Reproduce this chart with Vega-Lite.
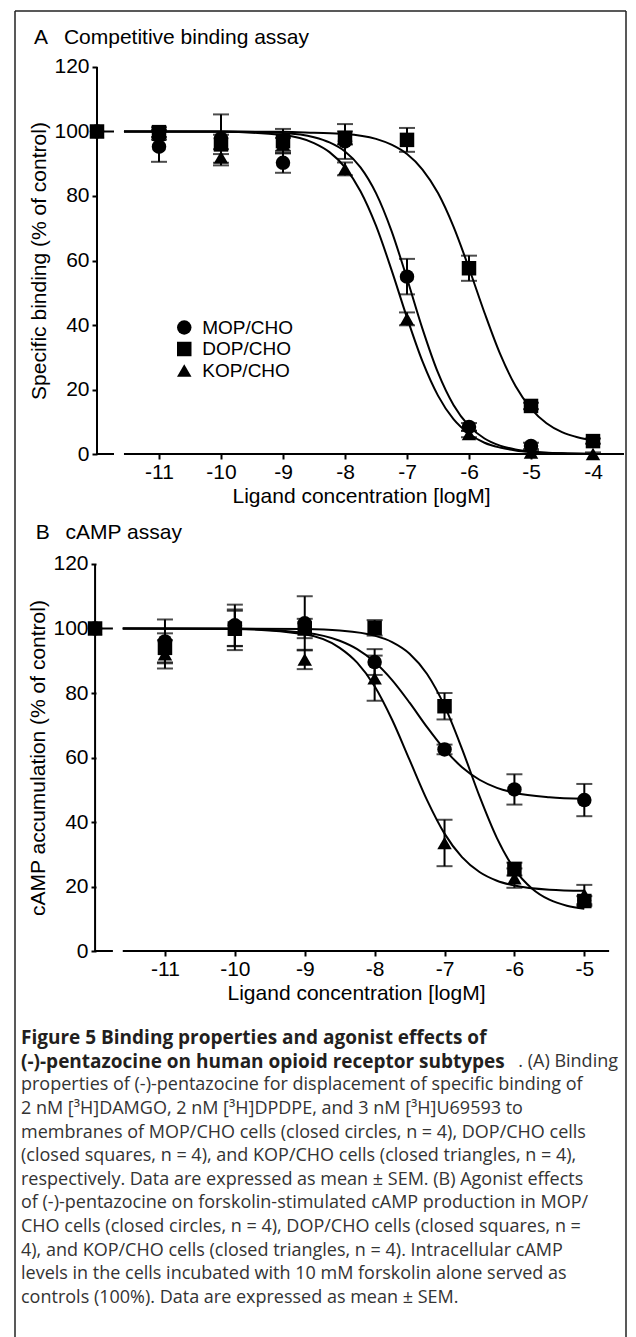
{
"$schema": "https://vega.github.io/schema/vega-lite/v6.json",
"background": "white",
"padding": {"left": 14, "top": 10, "right": 0, "bottom": 0},
"bounds": "flush",
"spacing": 0,
"config": {
 "view": {"stroke": null},
 "axis": {"domain": false, "grid": false, "tickColor": "black", "tickWidth": 2, "tickSize": 5, "labelFont": "Liberation Sans", "labelFontSize": 21, "labelColor": "black", "titleFont": "Liberation Sans", "titleFontSize": 21, "titleFontWeight": "normal", "titleColor": "black", "labelOverlap": false, "labelFlush": false}
},
"resolve": {"scale": {"shape": "independent"}, "legend": {"shape": "independent"}},
"datasets": {
 "a_points": [
  {"receptor": "MOP/CHO", "x": -12, "y": 100, "lo": 100, "hi": 100},
  {"receptor": "MOP/CHO", "x": -11, "y": 95.3, "lo": 90.6, "hi": 100.0},
  {"receptor": "MOP/CHO", "x": -10, "y": 97.8, "lo": 90.3, "hi": 105.3},
  {"receptor": "MOP/CHO", "x": -9, "y": 90.3, "lo": 87.2, "hi": 93.4},
  {"receptor": "MOP/CHO", "x": -8, "y": 96.9, "lo": 91.5, "hi": 102.3},
  {"receptor": "MOP/CHO", "x": -7, "y": 55.0, "lo": 49.5, "hi": 60.5},
  {"receptor": "MOP/CHO", "x": -6, "y": 8.4, "lo": 7.2, "hi": 9.6},
  {"receptor": "MOP/CHO", "x": -5, "y": 2.5, "lo": 1.5, "hi": 3.5},
  {"receptor": "DOP/CHO", "x": -12, "y": 100, "lo": 100, "hi": 100},
  {"receptor": "DOP/CHO", "x": -11, "y": 99.8, "lo": 98.3, "hi": 101.3},
  {"receptor": "DOP/CHO", "x": -10, "y": 96.0, "lo": 93.0, "hi": 99.0},
  {"receptor": "DOP/CHO", "x": -9, "y": 97.0, "lo": 93.2, "hi": 100.8},
  {"receptor": "DOP/CHO", "x": -8, "y": 98.0, "lo": 96.0, "hi": 100.0},
  {"receptor": "DOP/CHO", "x": -7, "y": 97.4, "lo": 93.7, "hi": 101.1},
  {"receptor": "DOP/CHO", "x": -6, "y": 57.6, "lo": 53.7, "hi": 61.5},
  {"receptor": "DOP/CHO", "x": -5, "y": 14.9, "lo": 13.9, "hi": 15.9},
  {"receptor": "DOP/CHO", "x": -4, "y": 4.0, "lo": 3.2, "hi": 4.8},
  {"receptor": "KOP/CHO", "x": -12, "y": 100, "lo": 100, "hi": 100},
  {"receptor": "KOP/CHO", "x": -11, "y": 99.0, "lo": 97.5, "hi": 100.5},
  {"receptor": "KOP/CHO", "x": -10, "y": 92.0, "lo": 89.5, "hi": 94.5},
  {"receptor": "KOP/CHO", "x": -9, "y": 96.0, "lo": 94.0, "hi": 98.0},
  {"receptor": "KOP/CHO", "x": -8, "y": 88.4, "lo": 86.4, "hi": 90.4},
  {"receptor": "KOP/CHO", "x": -7, "y": 41.9, "lo": 39.9, "hi": 43.9},
  {"receptor": "KOP/CHO", "x": -6, "y": 6.2, "lo": 5.2, "hi": 7.2},
  {"receptor": "KOP/CHO", "x": -5, "y": 0.5, "lo": 0.0, "hi": 1.0},
  {"receptor": "KOP/CHO", "x": -4, "y": 0.0, "lo": 0.0, "hi": 0.5}
 ],
 "a_curves": [
  {"curve": "stub", "x": -12, "y": 100}, {"curve": "stub", "x": -11.726, "y": 100},
  {"curve": "MOP", "x": -11.565, "y": 100}, {"curve": "MOP", "x": -10, "y": 100}, {"curve": "MOP", "x": -9, "y": 99.5}, {"curve": "MOP", "x": -8.5, "y": 98.2}, {"curve": "MOP", "x": -8.25, "y": 96.6}, {"curve": "MOP", "x": -8, "y": 93.8}, {"curve": "MOP", "x": -7.75, "y": 88.9}, {"curve": "MOP", "x": -7.5, "y": 80.9}, {"curve": "MOP", "x": -7.25, "y": 69.2}, {"curve": "MOP", "x": -7, "y": 54.4}, {"curve": "MOP", "x": -6.75, "y": 38.8}, {"curve": "MOP", "x": -6.5, "y": 25.2}, {"curve": "MOP", "x": -6.25, "y": 15.2}, {"curve": "MOP", "x": -6, "y": 8.7}, {"curve": "MOP", "x": -5.75, "y": 4.8}, {"curve": "MOP", "x": -5.5, "y": 2.6}, {"curve": "MOP", "x": -5.25, "y": 1.4}, {"curve": "MOP", "x": -5, "y": 0.75}, {"curve": "MOP", "x": -4.5, "y": 0.2}, {"curve": "MOP", "x": -4, "y": 0.05},
  {"curve": "KOP", "x": -11.565, "y": 100}, {"curve": "KOP", "x": -10, "y": 99.9}, {"curve": "KOP", "x": -9, "y": 98.9}, {"curve": "KOP", "x": -8.5, "y": 96.4}, {"curve": "KOP", "x": -8.25, "y": 93.6}, {"curve": "KOP", "x": -8, "y": 88.9}, {"curve": "KOP", "x": -7.75, "y": 81.5}, {"curve": "KOP", "x": -7.5, "y": 70.8}, {"curve": "KOP", "x": -7.25, "y": 57.1}, {"curve": "KOP", "x": -7, "y": 42.3}, {"curve": "KOP", "x": -6.75, "y": 28.7}, {"curve": "KOP", "x": -6.5, "y": 18.1}, {"curve": "KOP", "x": -6.25, "y": 10.8}, {"curve": "KOP", "x": -6, "y": 6.3}, {"curve": "KOP", "x": -5.75, "y": 3.5}, {"curve": "KOP", "x": -5.5, "y": 2.0}, {"curve": "KOP", "x": -5.25, "y": 1.1}, {"curve": "KOP", "x": -5, "y": 0.6}, {"curve": "KOP", "x": -4.5, "y": 0.2}, {"curve": "KOP", "x": -4, "y": 0.05},
  {"curve": "DOP", "x": -11.565, "y": 100}, {"curve": "DOP", "x": -10, "y": 100}, {"curve": "DOP", "x": -9, "y": 99.9}, {"curve": "DOP", "x": -8.5, "y": 99.6}, {"curve": "DOP", "x": -8, "y": 99.25}, {"curve": "DOP", "x": -7.5, "y": 97.7}, {"curve": "DOP", "x": -7.25, "y": 95.9}, {"curve": "DOP", "x": -7, "y": 93.0}, {"curve": "DOP", "x": -6.75, "y": 88.2}, {"curve": "DOP", "x": -6.5, "y": 80.9}, {"curve": "DOP", "x": -6.25, "y": 70.5}, {"curve": "DOP", "x": -6, "y": 57.6}, {"curve": "DOP", "x": -5.75, "y": 43.8}, {"curve": "DOP", "x": -5.5, "y": 31.1}, {"curve": "DOP", "x": -5.25, "y": 21.1}, {"curve": "DOP", "x": -5, "y": 14.1}, {"curve": "DOP", "x": -4.75, "y": 9.55}, {"curve": "DOP", "x": -4.5, "y": 6.8}, {"curve": "DOP", "x": -4.25, "y": 5.2}, {"curve": "DOP", "x": -4, "y": 4.2}
 ],
 "b_points": [
  {"receptor": "MOP/CHO", "x": -12, "y": 100, "lo": 100, "hi": 100},
  {"receptor": "MOP/CHO", "x": -11, "y": 96.0, "lo": 89.2, "hi": 102.8},
  {"receptor": "MOP/CHO", "x": -10, "y": 101.0, "lo": 94.6, "hi": 107.4},
  {"receptor": "MOP/CHO", "x": -9, "y": 101.6, "lo": 93.2, "hi": 110.0},
  {"receptor": "MOP/CHO", "x": -8, "y": 89.6, "lo": 85.6, "hi": 93.6},
  {"receptor": "MOP/CHO", "x": -7, "y": 62.5, "lo": 61.0, "hi": 64.0},
  {"receptor": "MOP/CHO", "x": -6, "y": 50.1, "lo": 45.4, "hi": 54.8},
  {"receptor": "MOP/CHO", "x": -5, "y": 46.8, "lo": 41.8, "hi": 51.8},
  {"receptor": "DOP/CHO", "x": -12, "y": 100, "lo": 100, "hi": 100},
  {"receptor": "DOP/CHO", "x": -11, "y": 94.0, "lo": 89.5, "hi": 98.5},
  {"receptor": "DOP/CHO", "x": -10, "y": 100.0, "lo": 94.5, "hi": 105.5},
  {"receptor": "DOP/CHO", "x": -9, "y": 100.0, "lo": 97.0, "hi": 103.0},
  {"receptor": "DOP/CHO", "x": -8, "y": 100.2, "lo": 97.8, "hi": 102.6},
  {"receptor": "DOP/CHO", "x": -7, "y": 75.9, "lo": 71.8, "hi": 80.0},
  {"receptor": "DOP/CHO", "x": -6, "y": 25.4, "lo": 23.4, "hi": 27.4},
  {"receptor": "DOP/CHO", "x": -5, "y": 15.5, "lo": 14.0, "hi": 17.0},
  {"receptor": "KOP/CHO", "x": -12, "y": 100, "lo": 100, "hi": 100},
  {"receptor": "KOP/CHO", "x": -11, "y": 92.0, "lo": 87.6, "hi": 96.4},
  {"receptor": "KOP/CHO", "x": -10, "y": 99.6, "lo": 93.3, "hi": 105.9},
  {"receptor": "KOP/CHO", "x": -9, "y": 90.4, "lo": 87.4, "hi": 93.4},
  {"receptor": "KOP/CHO", "x": -8, "y": 84.6, "lo": 77.6, "hi": 91.6},
  {"receptor": "KOP/CHO", "x": -7, "y": 33.5, "lo": 26.3, "hi": 40.7},
  {"receptor": "KOP/CHO", "x": -6, "y": 22.6, "lo": 19.6, "hi": 25.6},
  {"receptor": "KOP/CHO", "x": -5, "y": 17.5, "lo": 14.5, "hi": 20.5}
 ],
 "b_curves": [
  {"curve": "stub", "x": -12, "y": 100}, {"curve": "stub", "x": -11.745, "y": 100},
  {"curve": "MOP", "x": -11.604, "y": 100}, {"curve": "MOP", "x": -10, "y": 99.9}, {"curve": "MOP", "x": -9, "y": 98.7}, {"curve": "MOP", "x": -8.5, "y": 96.2}, {"curve": "MOP", "x": -8.25, "y": 93.6}, {"curve": "MOP", "x": -8, "y": 89.6}, {"curve": "MOP", "x": -7.75, "y": 84.0}, {"curve": "MOP", "x": -7.5, "y": 77.0}, {"curve": "MOP", "x": -7.25, "y": 69.4}, {"curve": "MOP", "x": -7, "y": 62.5}, {"curve": "MOP", "x": -6.75, "y": 57.0}, {"curve": "MOP", "x": -6.5, "y": 53.1}, {"curve": "MOP", "x": -6.25, "y": 50.6}, {"curve": "MOP", "x": -6, "y": 49.1}, {"curve": "MOP", "x": -5.5, "y": 47.7}, {"curve": "MOP", "x": -5, "y": 47.2},
  {"curve": "DOP", "x": -11.604, "y": 100}, {"curve": "DOP", "x": -10, "y": 100}, {"curve": "DOP", "x": -9, "y": 99.85}, {"curve": "DOP", "x": -8.5, "y": 99.4}, {"curve": "DOP", "x": -8, "y": 97.8}, {"curve": "DOP", "x": -7.75, "y": 95.8}, {"curve": "DOP", "x": -7.5, "y": 92.2}, {"curve": "DOP", "x": -7.25, "y": 85.9}, {"curve": "DOP", "x": -7, "y": 76.0}, {"curve": "DOP", "x": -6.75, "y": 62.7}, {"curve": "DOP", "x": -6.5, "y": 48.0}, {"curve": "DOP", "x": -6.25, "y": 35.0}, {"curve": "DOP", "x": -6, "y": 25.4}, {"curve": "DOP", "x": -5.75, "y": 19.4}, {"curve": "DOP", "x": -5.5, "y": 15.9}, {"curve": "DOP", "x": -5.25, "y": 14.05}, {"curve": "DOP", "x": -5, "y": 13.1},
  {"curve": "KOP", "x": -11.604, "y": 100}, {"curve": "KOP", "x": -10, "y": 99.85}, {"curve": "KOP", "x": -9, "y": 98.2}, {"curve": "KOP", "x": -8.5, "y": 94.0}, {"curve": "KOP", "x": -8.25, "y": 89.4}, {"curve": "KOP", "x": -8, "y": 82.1}, {"curve": "KOP", "x": -7.75, "y": 71.7}, {"curve": "KOP", "x": -7.5, "y": 59.25}, {"curve": "KOP", "x": -7.25, "y": 46.8}, {"curve": "KOP", "x": -7, "y": 36.4}, {"curve": "KOP", "x": -6.75, "y": 29.1}, {"curve": "KOP", "x": -6.5, "y": 24.5}, {"curve": "KOP", "x": -6.25, "y": 21.8}, {"curve": "KOP", "x": -6, "y": 20.3}, {"curve": "KOP", "x": -5.5, "y": 19.0}, {"curve": "KOP", "x": -5, "y": 18.65}
 ],
 "caption": [
  {"line": 1, "kind": "title", "text": "Figure 5 Binding properties and agonist effects of"},
  {"line": 2, "kind": "title", "text": "(-)-pentazocine on human opioid receptor subtypes"},
  {"line": 2, "kind": "tail", "text": ". (A) Binding"},
  {"line": 3, "kind": "body", "text": "properties of (-)-pentazocine for displacement of specific binding of"},
  {"line": 4, "kind": "body", "text": "2 nM [³H]DAMGO, 2 nM [³H]DPDPE, and 3 nM [³H]U69593 to"},
  {"line": 5, "kind": "body", "text": "membranes of MOP/CHO cells (closed circles, n = 4), DOP/CHO cells"},
  {"line": 6, "kind": "body", "text": "(closed squares, n = 4), and KOP/CHO cells (closed triangles, n = 4),"},
  {"line": 7, "kind": "body", "text": "respectively. Data are expressed as mean ± SEM. (B) Agonist effects"},
  {"line": 8, "kind": "body", "text": "of (-)-pentazocine on forskolin-stimulated cAMP production in MOP/"},
  {"line": 9, "kind": "body", "text": "CHO cells (closed circles, n = 4), DOP/CHO cells (closed squares, n ="},
  {"line": 10, "kind": "body", "text": "4), and KOP/CHO cells (closed triangles, n = 4). Intracellular cAMP"},
  {"line": 11, "kind": "body", "text": "levels in the cells incubated with 10 mM forskolin alone served as"},
  {"line": 12, "kind": "body", "text": "controls (100%). Data are expressed as mean ± SEM."}
 ]
},
"vconcat": [
 {
  "width": 611, "height": 487,
  "data": {"values": [{}]},
  "layer": [
   {"mark": {"type": "rule", "color": "#222", "strokeWidth": 1.5}, "encoding": {"x": {"datum": -13.3226, "type": "quantitative", "scale": {"domain": [-13.3226, -3.4677], "nice": false, "zero": false}}, "y": {"datum": -13.643, "type": "quantitative", "scale": {"domain": [-13.643, 137.364], "nice": false, "zero": false}}, "y2": {"datum": 137.364}}},
   {"mark": {"type": "rule", "color": "#222", "strokeWidth": 1.5}, "encoding": {"x": {"datum": -3.4677, "type": "quantitative", "scale": {"domain": [-13.3226, -3.4677], "nice": false, "zero": false}}, "y": {"datum": -13.643, "type": "quantitative", "scale": {"domain": [-13.643, 137.364], "nice": false, "zero": false}}, "y2": {"datum": 137.364}}},
   {"mark": {"type": "rule", "color": "#222", "strokeWidth": 1.5}, "encoding": {"x": {"datum": -13.3226, "type": "quantitative", "scale": {"domain": [-13.3226, -3.4677], "nice": false, "zero": false}}, "x2": {"datum": -3.4677}, "y": {"datum": 137.364, "type": "quantitative", "scale": {"domain": [-13.643, 137.364], "nice": false, "zero": false}}}},
   {"mark": {"type": "rule", "color": "black", "strokeWidth": 2}, "encoding": {"x": {"datum": -12, "type": "quantitative", "scale": {"domain": [-13.3226, -3.4677], "nice": false, "zero": false}}, "y": {"datum": 0, "type": "quantitative", "scale": {"domain": [-13.643, 137.364], "nice": false, "zero": false}}, "y2": {"datum": 120}}},
   {"mark": {"type": "rule", "color": "black", "strokeWidth": 2}, "encoding": {"x": {"datum": -12, "type": "quantitative", "scale": {"domain": [-13.3226, -3.4677], "nice": false, "zero": false}}, "x2": {"datum": -11.726}, "y": {"datum": 0, "type": "quantitative", "scale": {"domain": [-13.643, 137.364], "nice": false, "zero": false}}}},
   {"mark": {"type": "rule", "color": "black", "strokeWidth": 2}, "encoding": {"x": {"datum": -11.565, "type": "quantitative", "scale": {"domain": [-13.3226, -3.4677], "nice": false, "zero": false}}, "x2": {"datum": -3.5}, "y": {"datum": 0, "type": "quantitative", "scale": {"domain": [-13.643, 137.364], "nice": false, "zero": false}}}},
   {"mark": {"type": "text", "text": "A\u00a0\u00a0\u2009Competitive binding assay", "align": "left", "baseline": "alphabetic", "font": "Liberation Sans", "fontSize": 21, "color": "black"}, "encoding": {"x": {"datum": -13.016, "type": "quantitative", "scale": {"domain": [-13.3226, -3.4677], "nice": false, "zero": false}}, "y": {"datum": 127.1, "type": "quantitative", "scale": {"domain": [-13.643, 137.364], "nice": false, "zero": false}}}},
   {"data": {"name": "a_points"}, "transform": [{"filter": "datum.hi > datum.lo"}], "mark": {"type": "errorbar", "ticks": {"size": 16}, "thickness": 2, "color": "black"}, "encoding": {"x": {"field": "x", "type": "quantitative", "title": "Ligand concentration [logM]", "scale": {"domain": [-13.3226, -3.4677], "nice": false, "zero": false}}, "y": {"field": "lo", "type": "quantitative", "title": "Specific binding (% of control)", "scale": {"domain": [-13.643, 137.364], "nice": false, "zero": false}}, "y2": {"field": "hi"}}},
   {"data": {"name": "a_curves"}, "mark": {"type": "line", "interpolate": "monotone", "color": "black", "strokeWidth": 2}, "encoding": {"x": {"field": "x", "type": "quantitative", "title": "Ligand concentration [logM]", "scale": {"domain": [-13.3226, -3.4677], "nice": false, "zero": false}}, "y": {"field": "y", "type": "quantitative", "title": "Specific binding (% of control)", "scale": {"domain": [-13.643, 137.364], "nice": false, "zero": false}}, "detail": {"field": "curve", "type": "nominal"}}},
   {"data": {"name": "a_points"}, "mark": {"type": "point", "filled": true, "size": 210, "color": "black", "opacity": 1, "strokeWidth": 0},
    "encoding": {
     "x": {"field": "x", "type": "quantitative", "title": "Ligand concentration [logM]", "scale": {"domain": [-13.3226, -3.4677], "nice": false, "zero": false}, "axis": {"values": [-11, -10, -9, -8, -7, -6, -5, -4], "offset": -44, "labelExpr": "'' + datum.value", "labelPadding": 2, "titlePadding": 3, "titleX": 346}},
     "y": {"field": "y", "type": "quantitative", "title": "Specific binding (% of control)", "scale": {"domain": [-13.643, 137.364], "nice": false, "zero": false}, "axis": {"values": [0, 20, 40, 60, 80, 100, 120], "offset": -82, "labelPadding": 3, "titlePadding": 4, "titleY": 249.5}},
     "shape": {"field": "receptor", "type": "nominal", "scale": {"domain": ["MOP/CHO", "DOP/CHO", "KOP/CHO"], "range": ["circle", "square", "triangle-up"]}, "legend": {"orient": "none", "legendX": 159.75, "legendY": 307, "title": null, "padding": 0, "labelFont": "Liberation Sans", "labelFontSize": 19, "labelColor": "black", "symbolSize": 210, "symbolFillColor": "black", "symbolStrokeWidth": 0, "symbolOpacity": 1, "rowPadding": 1.5, "labelOffset": 8.5}}
    }
   }
  ]
 },
 {
  "width": 611, "height": 498,
  "data": {"values": [{}]},
  "layer": [
   {"mark": {"type": "rule", "color": "#222", "strokeWidth": 1.5}, "encoding": {"x": {"datum": -13.1457, "type": "quantitative", "scale": {"domain": [-13.1457, -4.4035], "nice": false, "zero": false}}, "y": {"datum": -13.953, "type": "quantitative", "scale": {"domain": [-13.953, 140.465], "nice": false, "zero": false}}, "y2": {"datum": 140.465}}},
   {"mark": {"type": "rule", "color": "#222", "strokeWidth": 1.5}, "encoding": {"x": {"datum": -4.4035, "type": "quantitative", "scale": {"domain": [-13.1457, -4.4035], "nice": false, "zero": false}}, "y": {"datum": -13.953, "type": "quantitative", "scale": {"domain": [-13.953, 140.465], "nice": false, "zero": false}}, "y2": {"datum": 140.465}}},
   {"mark": {"type": "rule", "color": "black", "strokeWidth": 2}, "encoding": {"x": {"datum": -12, "type": "quantitative", "scale": {"domain": [-13.1457, -4.4035], "nice": false, "zero": false}}, "y": {"datum": 0, "type": "quantitative", "scale": {"domain": [-13.953, 140.465], "nice": false, "zero": false}}, "y2": {"datum": 120}}},
   {"mark": {"type": "rule", "color": "black", "strokeWidth": 2}, "encoding": {"x": {"datum": -12, "type": "quantitative", "scale": {"domain": [-13.1457, -4.4035], "nice": false, "zero": false}}, "x2": {"datum": -11.745}, "y": {"datum": 0, "type": "quantitative", "scale": {"domain": [-13.953, 140.465], "nice": false, "zero": false}}}},
   {"mark": {"type": "rule", "color": "black", "strokeWidth": 2}, "encoding": {"x": {"datum": -11.604, "type": "quantitative", "scale": {"domain": [-13.1457, -4.4035], "nice": false, "zero": false}}, "x2": {"datum": -4.645}, "y": {"datum": 0, "type": "quantitative", "scale": {"domain": [-13.953, 140.465], "nice": false, "zero": false}}}},
   {"mark": {"type": "text", "text": "B\u00a0\u00a0\u2009cAMP assay", "align": "left", "baseline": "alphabetic", "font": "Liberation Sans", "fontSize": 21, "color": "black"}, "encoding": {"x": {"datum": -12.849, "type": "quantitative", "scale": {"domain": [-13.1457, -4.4035], "nice": false, "zero": false}}, "y": {"datum": 127.75, "type": "quantitative", "scale": {"domain": [-13.953, 140.465], "nice": false, "zero": false}}}},
   {"data": {"name": "b_points"}, "transform": [{"filter": "datum.hi > datum.lo"}], "mark": {"type": "errorbar", "ticks": {"size": 16}, "thickness": 2, "color": "black"}, "encoding": {"x": {"field": "x", "type": "quantitative", "title": "Ligand concentration [logM]", "scale": {"domain": [-13.1457, -4.4035], "nice": false, "zero": false}}, "y": {"field": "lo", "type": "quantitative", "title": "cAMP accumulation (% of control)", "scale": {"domain": [-13.953, 140.465], "nice": false, "zero": false}}, "y2": {"field": "hi"}}},
   {"data": {"name": "b_curves"}, "mark": {"type": "line", "interpolate": "monotone", "color": "black", "strokeWidth": 2}, "encoding": {"x": {"field": "x", "type": "quantitative", "title": "Ligand concentration [logM]", "scale": {"domain": [-13.1457, -4.4035], "nice": false, "zero": false}}, "y": {"field": "y", "type": "quantitative", "title": "cAMP accumulation (% of control)", "scale": {"domain": [-13.953, 140.465], "nice": false, "zero": false}}, "detail": {"field": "curve", "type": "nominal"}}},
   {"data": {"name": "b_points"}, "mark": {"type": "point", "filled": true, "size": 210, "color": "black", "opacity": 1, "strokeWidth": 0},
    "encoding": {
     "x": {"field": "x", "type": "quantitative", "title": "Ligand concentration [logM]", "scale": {"domain": [-13.1457, -4.4035], "nice": false, "zero": false}, "axis": {"values": [-11, -10, -9, -8, -7, -6, -5], "offset": -45, "labelExpr": "'' + datum.value", "labelPadding": 2, "titlePadding": 3, "titleX": 341}},
     "y": {"field": "y", "type": "quantitative", "title": "cAMP accumulation (% of control)", "scale": {"domain": [-13.953, 140.465], "nice": false, "zero": false}, "axis": {"values": [0, 20, 40, 60, 80, 100, 120], "offset": -81, "labelPadding": 3, "titlePadding": 4, "titleY": 259.5}},
     "shape": {"field": "receptor", "type": "nominal", "scale": {"domain": ["MOP/CHO", "DOP/CHO", "KOP/CHO"], "range": ["circle", "square", "triangle-up"]}, "legend": null}
    }
   }
  ]
 },
 {
  "width": 611, "height": 345,
  "data": {"name": "caption"},
  "layer": [
   {"data": {"values": [{}]}, "mark": {"type": "rule", "color": "#222", "strokeWidth": 1.5}, "encoding": {"x": {"datum": -0.01005, "type": "quantitative", "scale": {"domain": [-0.01005, 1.0134], "nice": false, "zero": false}, "axis": null}, "y": {"datum": -0.7766, "type": "quantitative", "scale": {"domain": [-0.7766, 13.817], "nice": false, "zero": false, "reverse": true}, "axis": null}, "y2": {"datum": 13.817}}},
   {"data": {"values": [{}]}, "mark": {"type": "rule", "color": "#222", "strokeWidth": 1.5}, "encoding": {"x": {"datum": 1.0134, "type": "quantitative", "scale": {"domain": [-0.01005, 1.0134], "nice": false, "zero": false}, "axis": null}, "y": {"datum": -0.7766, "type": "quantitative", "scale": {"domain": [-0.7766, 13.817], "nice": false, "zero": false, "reverse": true}, "axis": null}, "y2": {"datum": 13.817}}},
   {"transform": [{"filter": "datum.kind == 'title'"}], "mark": {"type": "text", "align": "left", "baseline": "middle", "font": "Open Sans", "fontWeight": "bold", "fontSize": 19, "color": "#231f20"}, "encoding": {"x": {"datum": 0, "type": "quantitative", "scale": {"domain": [-0.01005, 1.0134], "nice": false, "zero": false}, "axis": null}, "y": {"field": "line", "type": "quantitative", "scale": {"domain": [-0.7766, 13.817], "nice": false, "zero": false, "reverse": true}, "axis": null}, "text": {"field": "text"}}},
   {"transform": [{"filter": "datum.kind == 'body'"}], "mark": {"type": "text", "align": "left", "baseline": "middle", "font": "Open Sans", "fontSize": 18, "color": "#333333"}, "encoding": {"x": {"datum": 0, "type": "quantitative", "scale": {"domain": [-0.01005, 1.0134], "nice": false, "zero": false}, "axis": null}, "y": {"field": "line", "type": "quantitative", "scale": {"domain": [-0.7766, 13.817], "nice": false, "zero": false, "reverse": true}, "axis": null}, "text": {"field": "text"}}},
   {"transform": [{"filter": "datum.kind == 'tail'"}], "mark": {"type": "text", "align": "right", "baseline": "middle", "font": "Open Sans", "fontSize": 18, "color": "#333333"}, "encoding": {"x": {"datum": 1, "type": "quantitative", "scale": {"domain": [-0.01005, 1.0134], "nice": false, "zero": false}, "axis": null}, "y": {"field": "line", "type": "quantitative", "scale": {"domain": [-0.7766, 13.817], "nice": false, "zero": false, "reverse": true}, "axis": null}, "text": {"field": "text"}}}
  ]
 }
]
}
